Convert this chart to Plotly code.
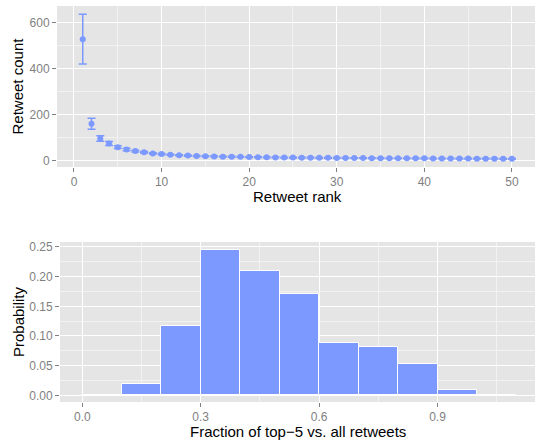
import plotly.graph_objects as go

# ---- Data: top panel (retweet count by rank) ----
ranks = list(range(1, 51))
retweet_mean = [527, 160, 96, 74, 58, 48, 41, 36, 31, 28,
                25, 23, 21.5, 20, 19, 18, 17, 16.5, 16, 15,
                14.5, 14, 13.5, 13, 13, 12.5, 12.5, 12, 12, 11.5,
                11.5, 11, 11, 10.5, 10.5, 10, 10, 10, 9.5, 9.5,
                9, 9, 9, 8.5, 8.5, 8, 8, 8, 7.5, 7.5]
retweet_err = [108, 24, 12, 8.5, 6, 5, 4, 3.5, 3, 3,
               2.5, 2.5, 2.5, 2, 2, 2, 2, 2, 2, 2,
               1.5, 1.5, 1.5, 1.5, 1.5, 1.5, 1.5, 1.5, 1.5, 1.5,
               1.5, 1.5, 1.5, 1.5, 1.5, 1.5, 1.5, 1.5, 1.5, 1.5,
               1.5, 1.5, 1.5, 1.5, 1.5, 1.5, 1.5, 1.5, 1.5, 1.5]

# ---- Data: bottom panel (histogram of top-5 fraction) ----
bin_centers = [0.05, 0.15, 0.25, 0.35, 0.45, 0.55, 0.65, 0.75, 0.85, 0.95, 1.05]
bin_width = 0.1
probability = [0.0, 0.019, 0.117, 0.245, 0.210, 0.171, 0.088, 0.082, 0.053, 0.0095, 0.0]

top_xticks = [0, 10, 20, 30, 40, 50]
top_yticks = [0, 200, 400, 600]
bot_xticks = [0.0, 0.3, 0.6, 0.9]
bot_xticklabels = ["0.0", "0.3", "0.6", "0.9"]
bot_yticks = [0.00, 0.05, 0.10, 0.15, 0.20, 0.25]
bot_yticklabels = ["0.00", "0.05", "0.10", "0.15", "0.20", "0.25"]

BLUE = "#7b99ff"
PANEL = "#e5e5e5"
TICKC = "#7f7f7f"
FONT = "Liberation Sans, Arial, Helvetica, sans-serif"

W, H = 535, 440

fig = go.Figure()
fig.add_trace(go.Scatter(
    x=ranks, y=retweet_mean, mode="markers",
    marker=dict(color=BLUE, size=6),
    error_y=dict(type="data", array=retweet_err, color=BLUE, thickness=1.5, width=4),
    xaxis="x", yaxis="y", showlegend=False, cliponaxis=False,
))
fig.add_trace(go.Bar(
    x=bin_centers, y=probability, width=bin_width,
    marker=dict(color=BLUE, line=dict(color="white", width=1)),
    xaxis="x2", yaxis="y2", showlegend=False,
))

def px_x(p):
    return p / W

def px_y(p):
    return 1 - p / H

axis_common = dict(
    showline=False, zeroline=False, ticks="outside", ticklen=4, tickwidth=1,
    tickcolor=TICKC, tickfont=dict(family=FONT, size=12, color=TICKC),
    gridcolor="white", gridwidth=1.2, showgrid=True, automargin=False,
)

fig.update_layout(
    width=W, height=H,
    margin=dict(l=0, r=0, t=0, b=0, autoexpand=False),
    paper_bgcolor="white", plot_bgcolor=PANEL,
    font=dict(family=FONT),
    bargap=0,
    xaxis=dict(domain=[px_x(57), 1.0], range=[-1.94, 52.63], anchor="y",
               tickvals=top_xticks,
               minor=dict(dtick=5, tick0=0, showgrid=True, gridcolor="#f2f2f2", gridwidth=0.8),
               **axis_common),
    yaxis=dict(domain=[px_y(167), px_y(6)], range=[-28, 671], anchor="x",
               tickvals=top_yticks,
               minor=dict(dtick=100, tick0=0, showgrid=True, gridcolor="#f2f2f2", gridwidth=0.8),
               **axis_common),
    xaxis2=dict(domain=[px_x(60), 1.0], range=[-0.0565, 1.147], anchor="y2",
                tickvals=bot_xticks, ticktext=bot_xticklabels,
                minor=dict(dtick=0.15, tick0=0, showgrid=True, gridcolor="#f2f2f2", gridwidth=0.8),
                **axis_common),
    yaxis2=dict(domain=[px_y(402), px_y(242)], range=[-0.0112, 0.2583], anchor="x2",
                tickvals=bot_yticks, ticktext=bot_yticklabels,
                minor=dict(dtick=0.025, tick0=0, showgrid=True, gridcolor="#f2f2f2", gridwidth=0.8),
                **axis_common),
)

titles = [
    dict(text="Retweet rank", x=px_x(297), y=px_y(196.5), textangle=0),
    dict(text="Retweet count", x=px_x(17), y=px_y(86.5), textangle=-90),
    dict(text="Fraction of top\u22125 vs. all retweets", x=px_x(298), y=px_y(431), textangle=0),
    dict(text="Probability", x=px_x(18), y=px_y(322), textangle=-90),
]
for t in titles:
    fig.add_annotation(
        text=t["text"], x=t["x"], y=t["y"], xref="paper", yref="paper",
        xanchor="center", yanchor="middle", showarrow=False, textangle=t["textangle"],
        font=dict(family=FONT, size=15, color="black"),
    )

fig.write_html(
    "out.html",
    config={"displayModeBar": False},
    post_script="document.body.style.margin='0';document.body.style.overflow='hidden';",
)
